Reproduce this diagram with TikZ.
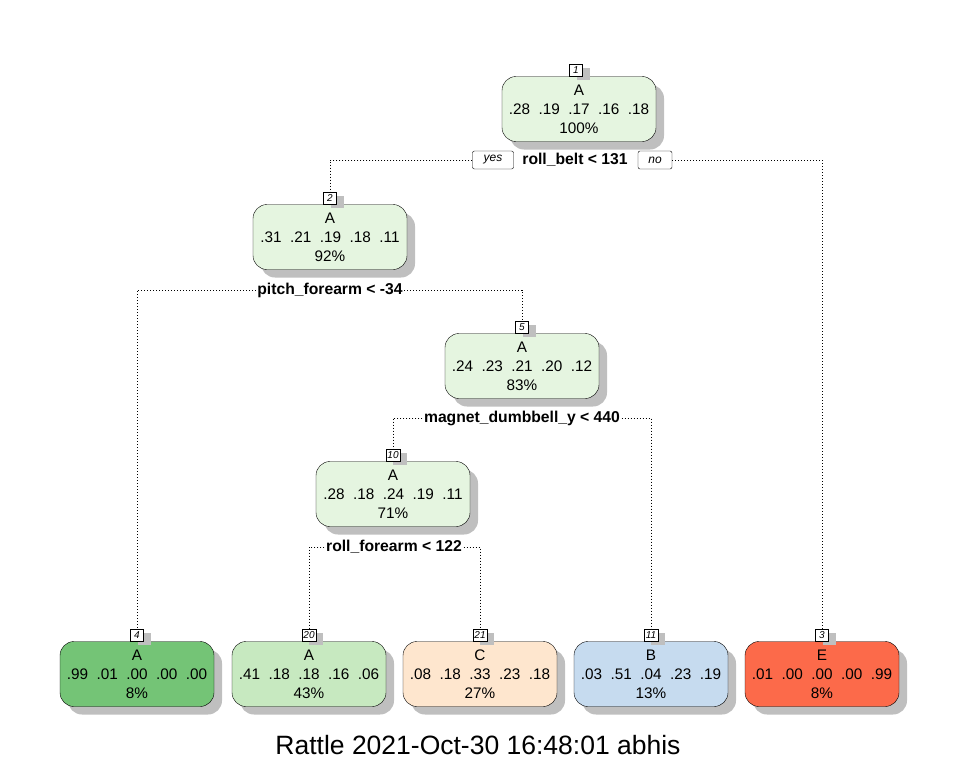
\documentclass[tikz,border=0pt]{standalone}
\usepackage{fontspec}
\setmainfont{Liberation Sans}
\usetikzlibrary{positioning,shadows}
\definecolor{inner}{HTML}{E5F5E0}
\definecolor{leafA}{HTML}{74C476}
\definecolor{leafAA}{HTML}{C7E9C0}
\definecolor{leafC}{HTML}{FEE6CE}
\definecolor{leafB}{HTML}{C6DBEF}
\definecolor{leafE}{HTML}{FC6A4A}
\tikzset{
  treebox/.style={rectangle, draw, rounded corners=14pt, minimum width=154pt, minimum height=65pt,
    align=center, font=\fontsize{15.3}{19}\selectfont, inner sep=0pt,
    drop shadow={shadow xshift=8pt, shadow yshift=-8pt, fill=black!25, opacity=1}},
  numbox/.style={rectangle, draw, fill=white, inner sep=1.5pt, minimum height=12pt, minimum width=13pt,
    font=\fontsize{10}{10}\itshape\selectfont,
    drop shadow={shadow xshift=7pt, shadow yshift=-4pt, fill=black!25, opacity=1}},
  splitlabel/.style={fill=white, inner sep=1.5pt, font=\fontsize{15.7}{15.7}\bfseries\selectfont},
  yesno/.style={rectangle, draw, fill=white, rounded corners=2pt, minimum height=18pt, inner sep=2pt,
    font=\fontsize{12}{12}\itshape\selectfont},
  branch/.style={dash pattern=on 1pt off 2pt, line width=0.9pt}
}
\begin{document}
\begin{tikzpicture}[x=1pt, y=-1pt]
    \useasboundingbox (0,0) rectangle (960,768);

    % inner nodes
    \node (n1) [treebox, fill=inner] at (579, 109) {A\\.28~~.19~~.17~~.16~~.18\\100\%};
    \node (n2) [treebox, fill=inner] at (330, 237) {A\\.31~~.21~~.19~~.18~~.11\\92\%};
    \node (n5) [treebox, fill=inner] at (522, 366) {A\\.24~~.23~~.21~~.20~~.12\\83\%};
    \node (n10) [treebox, fill=inner] at (393, 494) {A\\.28~~.18~~.24~~.19~~.11\\71\%};

    % leaves
    \node (l4) [treebox, fill=leafA] at (137, 674) {A\\.99~~.01~~.00~~.00~~.00\\8\%};
    \node (l20) [treebox, fill=leafAA] at (309, 674) {A\\.41~~.18~~.18~~.16~~.06\\43\%};
    \node (l21) [treebox, fill=leafC] at (480, 674) {C\\.08~~.18~~.33~~.23~~.18\\27\%};
    \node (l11) [treebox, fill=leafB] at (651, 674) {B\\.03~~.51~~.04~~.23~~.19\\13\%};
    \node (l3) [treebox, fill=leafE] at (822, 674) {E\\.01~~.00~~.00~~.00~~.99\\8\%};

    % node numbers
    \node (k1) [numbox, above=0pt of n1, xshift=-3pt] {1};
    \node (k2) [numbox, above=0pt of n2] {2};
    \node (k5) [numbox, above=0pt of n5] {5};
    \node (k10) [numbox, above=0pt of n10] {10};
    \node (k4) [numbox, above=0pt of l4] {4};
    \node (k20) [numbox, above=0pt of l20] {20};
    \node (k21) [numbox, above=0pt of l21] {21};
    \node (k11) [numbox, above=0pt of l11] {11};
    \node (k3) [numbox, above=0pt of l3] {3};

    % splits
    \node (s1) [splitlabel] at (575, 160) {roll\_belt < 131};
    \node (yes) [yesno, minimum width=41pt] at (493, 160) {yes};
    \node (no) [yesno, minimum width=34pt] at (655, 160) {no};
    \node (s2) [splitlabel] at (330, 290) {pitch\_forearm < -34};
    \node (s5) [splitlabel] at (522, 418) {magnet\_dumbbell\_y < 440};
    \node (s10) [splitlabel] at (394, 547) {roll\_forearm < 122};

    \draw[branch] (yes.west) -| (k2.north);
    \draw[branch] (no.east) -| (k3.north);
    \draw[branch] (s2.west) -| (k4.north);
    \draw[branch] (s2.east) -| (k5.north);
    \draw[branch] (s5.west) -| (k10.north);
    \draw[branch] (s5.east) -| (k11.north);
    \draw[branch] (s10.west) -| (k20.north);
    \draw[branch] (s10.east) -| (k21.north);

    \node (title) [font=\fontsize{26.5}{26.5}\selectfont] at (478, 745) {Rattle 2021-Oct-30 16:48:01 abhis};
\end{tikzpicture}
\end{document}
